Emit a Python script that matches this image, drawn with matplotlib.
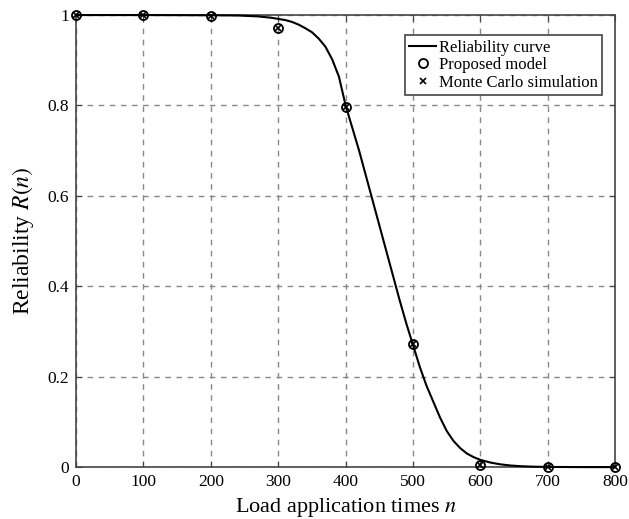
import numpy as np
import matplotlib.pyplot as plt

plt.rcParams['font.family'] = ['Liberation Serif', 'DejaVu Serif']
plt.rcParams['mathtext.fontset'] = 'stix'

# reliability curve
curve_n = [0, 100, 200, 240, 270, 290, 310, 320, 330, 340, 350, 360, 370, 380,
           390, 400, 410, 420, 430, 440, 450, 460, 470, 480, 490, 500, 510,
           520, 530, 540, 550, 560, 570, 580, 590, 600, 615, 630, 645, 660,
           680, 700, 750, 800]
curve_r = [1.0, 1.0, 0.9995, 0.999, 0.997, 0.994, 0.989, 0.985, 0.979, 0.971,
           0.962, 0.948, 0.93, 0.902, 0.864, 0.80, 0.75, 0.70, 0.645, 0.59,
           0.535, 0.48, 0.425, 0.37, 0.318, 0.27, 0.222, 0.18, 0.145, 0.11,
           0.08, 0.058, 0.042, 0.03, 0.022, 0.016, 0.01, 0.006, 0.0035, 0.002,
           0.0009, 0.0004, 0.0, 0.0]

# discrete points
pts_n = [0, 100, 200, 300, 400, 500, 600, 700, 800]
proposed = [1.0, 1.0, 0.998, 0.972, 0.797, 0.272, 0.004, 0.0, 0.0]
monte_carlo = [1.0, 1.0, 0.998, 0.972, 0.797, 0.272, 0.004, 0.0, 0.0]

fig = plt.figure(figsize=(6.29, 5.19), dpi=100)
ax = fig.add_axes([0.121, 0.1, 0.857, 0.871])

ax.plot(curve_n, curve_r, color='black', lw=1.5, label='Reliability curve',
        zorder=3, clip_on=False)
ax.plot(pts_n, proposed, linestyle='none', marker='o', ms=6.5, mfc='none',
        mec='black', mew=1.3, label='Proposed model', zorder=4, clip_on=False)
ax.plot(pts_n, monte_carlo, linestyle='none', marker='x', ms=4.5,
        color='black', mew=1.2, label='Monte Carlo simulation', zorder=5,
        clip_on=False)

ax.set_xlim(0, 800)
ax.set_ylim(0, 1)
ax.set_xticks(range(0, 801, 100))
ax.set_yticks([0, 0.2, 0.4, 0.6, 0.8, 1])
ax.set_yticklabels(['0', '0.2', '0.4', '0.6', '0.8', '1'])
ax.tick_params(direction='in', top=True, right=True, labelsize=12.5, length=4,
               color='#444444', pad=5)
ax.grid(True, linestyle=(0, (4, 4)), color='#888888', lw=1)
for s in ax.spines.values():
    s.set_color('#444444')
    s.set_linewidth(1.2)

ax.set_xlabel('Load application times $\\it{n}$', fontsize=16, labelpad=4)
ax.set_ylabel('Reliability $\\it{R(n)}$', fontsize=17, labelpad=8)

leg = ax.legend(loc='upper right', bbox_to_anchor=(0.975, 0.955), fontsize=12,
                fancybox=False, edgecolor='#444444', framealpha=1,
                handlelength=1.6, handletextpad=0.15, borderpad=0.25,
                labelspacing=0.1, borderaxespad=0)
leg.get_frame().set_linewidth(1.2)

fig.savefig('out.png', dpi=100)
